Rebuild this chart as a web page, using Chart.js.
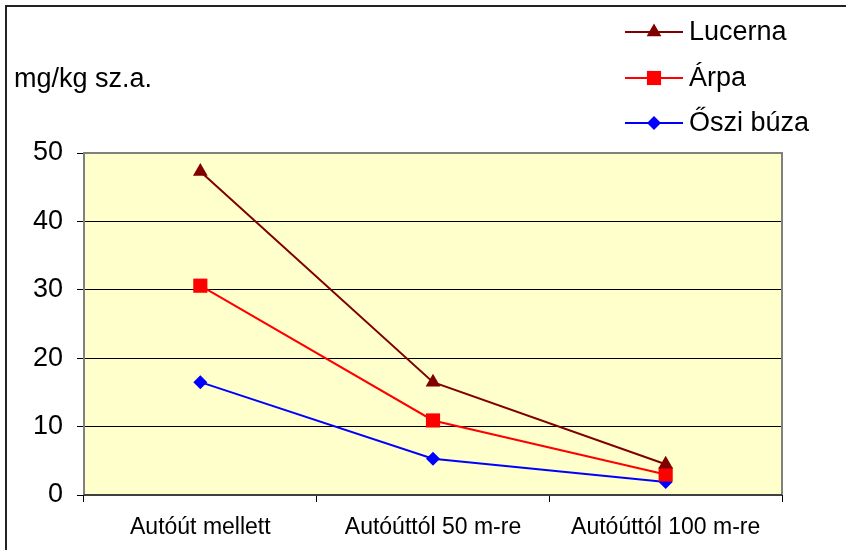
<!DOCTYPE html>
<html>
<head>
<meta charset="utf-8">
<script src="https://cdn.jsdelivr.net/npm/chart.js@4/dist/chart.umd.min.js"></script>
<style>
  html, body { margin: 0; padding: 0; background: #fff; }
  #wrap { width: 846px; height: 550px; position: relative; }
</style>
</head>
<body>
<div id="wrap"><canvas id="c" width="846" height="550"></canvas></div>
<script>
// Categories (distance from the motorway)
const categories = ['Autóút mellett', 'Autóúttól 50 m-re', 'Autóúttól 100 m-re'];

// Concentrations, mg/kg dry matter
const lucerna = [47.3, 16.5, 4.5];
const arpa    = [30.6, 10.9, 3.0];
const osziBuza = [16.5, 5.3, 1.9];

// Y axis range
const yMin = 0;
const yMax = 50;
const yStep = 10;

const unitLabel = 'mg/kg sz.a.';
const FONT = '"Liberation Sans", Arial, sans-serif';

// Outer frame, plot background and plot border
const framePlugin = {
  id: 'frame',
  beforeDraw(chart) {
    const { ctx, chartArea: a } = chart;
    ctx.save();
    ctx.fillStyle = '#ffffff';
    ctx.fillRect(0, 0, chart.width, chart.height);
    ctx.strokeStyle = '#222222';
    ctx.lineWidth = 2;
    ctx.strokeRect(6, 6, chart.width + 10, chart.height + 10);
    ctx.fillStyle = '#ffffcc';
    ctx.fillRect(a.left, a.top, a.right - a.left, a.bottom - a.top);
    // unit label
    ctx.fillStyle = '#000';
    ctx.font = '27px ' + FONT;
    ctx.textBaseline = 'alphabetic';
    ctx.textAlign = 'left';
    ctx.fillText(unitLabel, 14, 87);
    ctx.restore();
  },
  beforeDatasetsDraw(chart) {
    const { ctx, chartArea: a } = chart;
    ctx.save();
    ctx.lineWidth = 2;
    ctx.strokeStyle = '#808080';
    ctx.beginPath();
    ctx.moveTo(a.left, a.bottom);
    ctx.lineTo(a.left, a.top);
    ctx.lineTo(a.right, a.top);
    ctx.lineTo(a.right, a.bottom);
    ctx.stroke();
    ctx.strokeStyle = '#404040';
    ctx.beginPath();
    ctx.moveTo(a.left, a.bottom);
    ctx.lineTo(a.right, a.bottom);
    ctx.stroke();
    ctx.restore();
  }
};

function marker(ctx, style, x, y, r) {
  ctx.beginPath();
  if (style === 'triangle') {
    ctx.moveTo(x, y - r);
    ctx.lineTo(x + r * Math.sin(Math.PI / 3), y + r / 2);
    ctx.lineTo(x - r * Math.sin(Math.PI / 3), y + r / 2);
  } else if (style === 'rect') {
    const s = Math.SQRT1_2 * r;
    ctx.rect(x - s, y - s, 2 * s, 2 * s);
  } else {
    ctx.moveTo(x, y - r);
    ctx.lineTo(x + r, y);
    ctx.lineTo(x, y + r);
    ctx.lineTo(x - r, y);
  }
  ctx.closePath();
  ctx.fill();
}

// Vertical legend in the top-right corner
const legendPlugin = {
  id: 'sideLegend',
  afterDraw(chart) {
    const { ctx } = chart;
    const rows = [32, 78, 123];
    ctx.save();
    chart.data.datasets.forEach((ds, i) => {
      const y = rows[i];
      ctx.strokeStyle = ds.borderColor;
      ctx.lineWidth = 2;
      ctx.beginPath();
      ctx.moveTo(625, y);
      ctx.lineTo(683, y);
      ctx.stroke();
      ctx.fillStyle = ds.pointBackgroundColor;
      marker(ctx, ds.pointStyle, 654, y, ds.pointRadius);
      ctx.fillStyle = '#000';
      ctx.font = '27px ' + FONT;
      ctx.textAlign = 'left';
      ctx.textBaseline = 'middle';
      ctx.fillText(ds.label, 689, y + 1);
    });
    ctx.restore();
  }
};

function series(label, data, color, style, radius) {
  return {
    label, data,
    borderColor: color,
    backgroundColor: color,
    pointBackgroundColor: color,
    pointBorderColor: color,
    pointBorderWidth: 0,
    pointStyle: style,
    pointRadius: radius,
    pointHoverRadius: radius,
    borderWidth: 2,
    tension: 0,
    fill: false
  };
}

new Chart(document.getElementById('c'), {
  type: 'line',
  data: {
    labels: categories,
    datasets: [
      series('Lucerna', lucerna, '#800000', 'triangle', 8.5),
      series('Árpa', arpa, '#ff0000', 'rect', 10),
      series('Őszi búza', osziBuza, '#0000ff', 'rectRot', 7)
    ]
  },
  options: {
    responsive: false,
    animation: false,
    devicePixelRatio: 1,
    layout: { padding: { left: 6, right: 64, top: 153, bottom: 0 } },
    plugins: {
      legend: { display: false },
      tooltip: { enabled: false },
      title: { display: false }
    },
    scales: {
      x: {
        type: 'category',
        offset: true,
        afterFit(s) { s.height = 55; },
        border: { display: false },
        grid: {
          offset: true,
          drawOnChartArea: false,
          drawTicks: true,
          tickLength: 7,
          tickColor: '#000',
          tickWidth: 1
        },
        ticks: {
          color: '#000',
          font: { family: FONT, size: 23 },
          padding: 12,
          maxRotation: 0,
          autoSkip: false
        }
      },
      y: {
        min: yMin,
        max: yMax,
        afterFit(s) { s.width = 78; },
        border: { display: false },
        grid: {
          color: '#000',
          lineWidth: 1,
          drawTicks: true,
          tickLength: 7,
          tickColor: '#000'
        },
        ticks: {
          stepSize: yStep,
          color: '#000',
          font: { family: FONT, size: 27 },
          padding: 14
        }
      }
    }
  },
  plugins: [framePlugin, legendPlugin]
});
</script>
</body>
</html>
